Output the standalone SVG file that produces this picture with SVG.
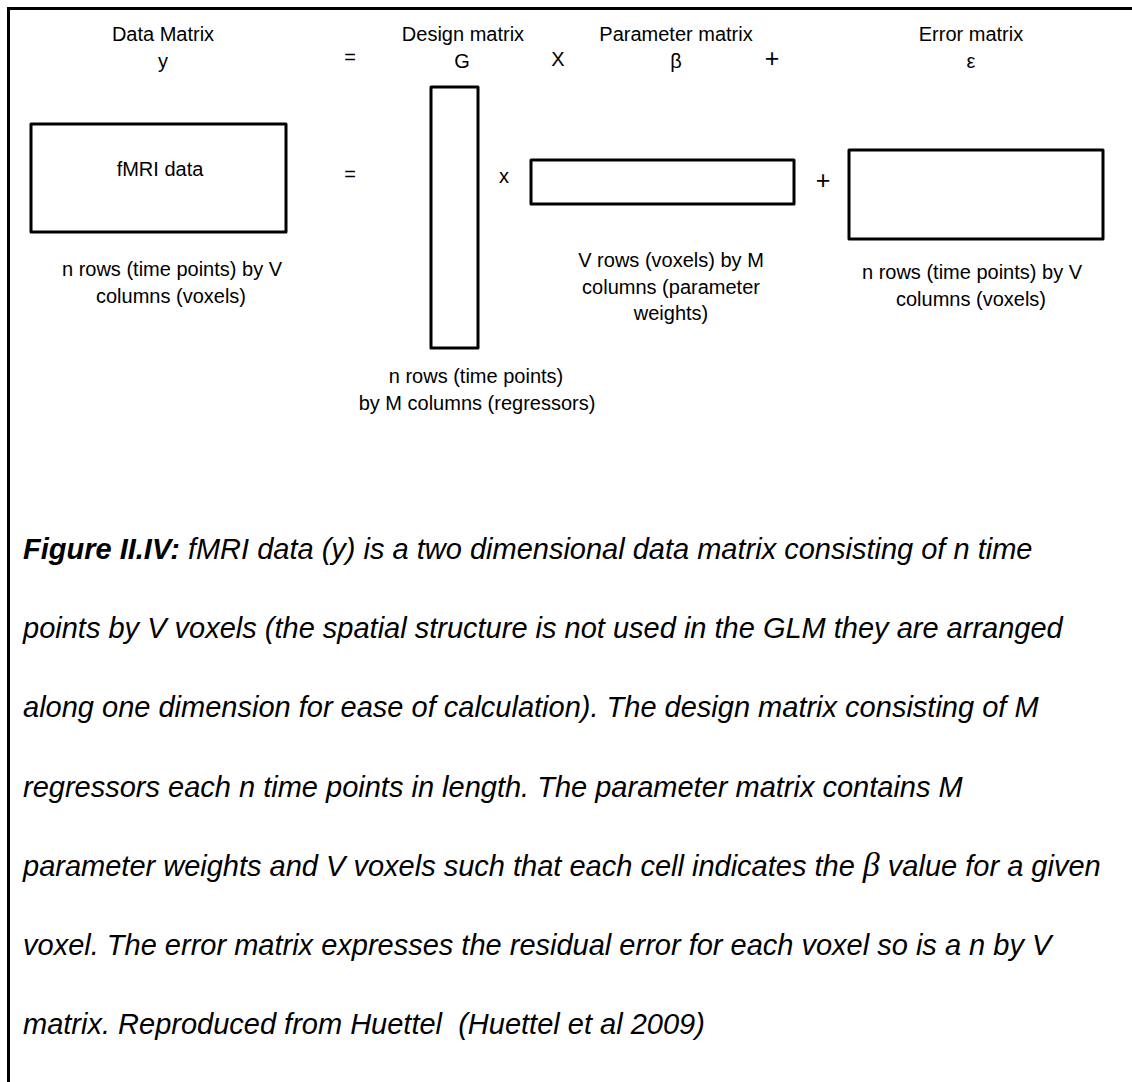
<svg xmlns="http://www.w3.org/2000/svg" width="1132" height="1082" viewBox="0 0 1132 1082">
<style>
  .lbl { font-family: "Liberation Sans", Arial, sans-serif; font-size: 20px; fill: #000; text-anchor: middle; }
  .op { font-family: "Liberation Sans", Arial, sans-serif; font-size: 20px; fill: #000; text-anchor: middle; }
  .plus { font-family: "Liberation Sans", Arial, sans-serif; font-size: 25px; fill: #000; text-anchor: middle; }
  .box { fill: #fff; stroke: #000; stroke-width: 3; stroke-linejoin: round; }
  .cap { font-family: "Liberation Sans", Arial, sans-serif; font-size: 29px; font-style: italic; fill: #000; }
  .frame { stroke: #000; stroke-width: 3; fill: none; }
</style>
<rect x="0" y="0" width="1132" height="1082" fill="#fff"/>
<g id="frame">
  <line class="frame" x1="7" y1="8.5" x2="1132" y2="8.5"/>
  <line class="frame" x1="8.5" y1="7" x2="8.5" y2="1082"/>
</g>
<g id="header">
  <text class="lbl" x="163" y="41">Data Matrix</text>
  <text class="lbl" x="163" y="68">y</text>
  <text class="op" x="350" y="64">=</text>
  <text class="lbl" x="463" y="41">Design matrix</text>
  <text class="lbl" x="462" y="68">G</text>
  <text class="op" x="558" y="66">X</text>
  <text class="lbl" x="676" y="41">Parameter matrix</text>
  <text class="lbl" x="676" y="68">β</text>
  <text class="plus" x="772" y="67">+</text>
  <text class="lbl" x="971" y="41">Error matrix</text>
  <text class="lbl" x="971" y="68">ε</text>
</g>
<g id="node-data">
  <rect class="box" x="31" y="124" width="255" height="108"/>
  <text class="lbl" x="160" y="176">fMRI data</text>
  <text class="lbl" x="172" y="276">n rows (time points) by V</text>
  <text class="lbl" x="171" y="303">columns (voxels)</text>
</g>
<g id="op-equals">
  <text class="op" x="350" y="181">=</text>
</g>
<g id="node-design">
  <rect class="box" x="431" y="87" width="47" height="261"/>
  <text class="lbl" x="476" y="383">n rows (time points)</text>
  <text class="lbl" x="477" y="410">by M columns (regressors)</text>
</g>
<g id="op-times">
  <text class="op" x="504" y="183">x</text>
</g>
<g id="node-parameter">
  <rect class="box" x="531" y="160" width="263" height="44"/>
  <text class="lbl" x="671" y="267">V rows (voxels) by M</text>
  <text class="lbl" x="671" y="294">columns (parameter</text>
  <text class="lbl" x="671" y="320">weights)</text>
</g>
<g id="op-plus">
  <text class="plus" x="823" y="189">+</text>
</g>
<g id="node-error">
  <rect class="box" x="849" y="150" width="254" height="89"/>
  <text class="lbl" x="972" y="279">n rows (time points) by V</text>
  <text class="lbl" x="971" y="306">columns (voxels)</text>
</g>
<g id="caption">
  <text class="cap" x="23" y="559"><tspan font-weight="bold">Figure II.IV:</tspan> fMRI data (y) is a two dimensional data matrix consisting of n time</text>
  <text class="cap" x="23" y="638">points by V voxels (the spatial structure is not used in the GLM they are arranged</text>
  <text class="cap" x="23" y="717">along one dimension for ease of calculation). The design matrix consisting of M</text>
  <text class="cap" x="23" y="797">regressors each n time points in length. The parameter matrix contains M</text>
  <text class="cap" x="23" y="876">parameter weights and V voxels such that each cell indicates the <tspan font-family="'Liberation Serif', serif" font-size="34">β</tspan> value for a given</text>
  <text class="cap" x="23" y="955">voxel. The error matrix expresses the residual error for each voxel so is a n by V</text>
  <text class="cap" x="23" y="1034">matrix. Reproduced from Huettel&#160; (Huettel et al 2009)</text>
</g>
</svg>
